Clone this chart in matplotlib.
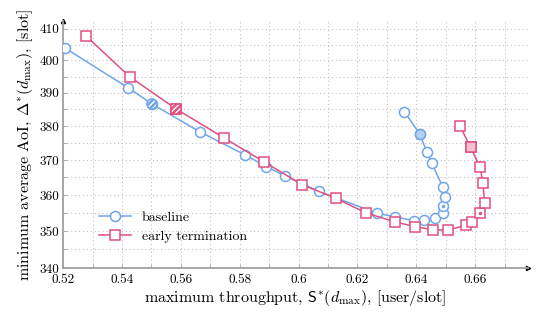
import numpy as np
import matplotlib
matplotlib.use("Agg")
import matplotlib.pyplot as plt
from matplotlib.ticker import FixedLocator, NullFormatter, FixedFormatter

plt.rcParams['font.family'] = 'serif'
plt.rcParams['font.serif'] = ['cmr10']
plt.rcParams['mathtext.fontset'] = 'cm'
plt.rcParams['axes.unicode_minus'] = False

# datos
base_x = [0.5205, 0.5420, 0.5502, 0.5664, 0.5818, 0.5891, 0.5954, 0.6070,
          0.6266, 0.6328, 0.6393, 0.6427, 0.6465, 0.6491, 0.6491, 0.6498,
          0.6490, 0.6452, 0.6436, 0.6411, 0.6359]
base_y = [404.0, 391.6, 386.6, 378.3, 371.5, 368.1, 365.4, 361.0,
          354.9, 353.9, 352.8, 353.0, 353.5, 354.9, 357.0, 359.4,
          362.3, 369.1, 372.3, 377.7, 384.3]

early_x = [0.5277, 0.5427, 0.5584, 0.5748, 0.5882, 0.6013, 0.6126, 0.6229,
           0.6328, 0.6396, 0.6458, 0.6509, 0.6570, 0.6589, 0.6616, 0.6632,
           0.6626, 0.6617, 0.6584, 0.6549]
early_y = [407.8, 394.9, 385.1, 376.4, 369.5, 362.9, 359.1, 355.0,
           352.5, 351.2, 350.3, 350.3, 351.6, 352.5, 355.0, 357.7,
           363.4, 367.9, 373.7, 379.9]

# puntos especiales (indices): rayado, relleno, con punto
base_hatch, base_fill, base_dot = 2, 19, 14
early_hatch, early_fill, early_dot = 2, 18, 14

azul = '#6fa6ea'
rojo = '#e0507e'
gris = '#a0a0a0'

fig = plt.figure(figsize=(5.39, 3.21), dpi=100)
ax = fig.add_axes([0.117, 0.165, 0.863, 0.77])
ax.set_yscale('log')

ax.plot(base_x, base_y, color=azul, lw=1.1, marker='o', ms=7.2,
        mfc='white', mec=azul, mew=1.1, label='baseline', zorder=3)
ax.plot(early_x, early_y, color=rojo, lw=1.1, marker='s', ms=7.0,
        mfc='white', mec=rojo, mew=1.1, label='early termination', zorder=4)

# marcadores rayados
for xs, ys, i, c, m, s in [(base_x, base_y, base_hatch, azul, 'o', 52),
                           (early_x, early_y, early_hatch, rojo, 's', 49)]:
    ax.scatter([xs[i]], [ys[i]], s=s, marker=m, facecolor=c, edgecolor='white',
               hatch='//////', linewidths=0, zorder=5)
    ax.scatter([xs[i]], [ys[i]], s=s, marker=m, facecolor='none', edgecolor=c,
               linewidths=1.1, zorder=6)

# marcadores rellenos
ax.plot([base_x[base_fill]], [base_y[base_fill]], marker='o', ms=7.2,
        mfc='#b4d0f4', mec=azul, mew=1.1, zorder=5)
ax.plot([early_x[early_fill]], [early_y[early_fill]], marker='s', ms=7.0,
        mfc='#f2c0cf', mec=rojo, mew=1.1, zorder=5)

# marcadores con punto
ax.plot([base_x[base_dot]], [base_y[base_dot]], marker='.', ms=3,
        color=azul, zorder=6)
ax.plot([early_x[early_dot]], [early_y[early_dot]], marker='.', ms=3,
        color=rojo, zorder=6)

ax.set_xlim(0.52, 0.678)
ax.set_ylim(340, 412.6)

xt = [0.52, 0.54, 0.56, 0.58, 0.60, 0.62, 0.64, 0.66]
ax.xaxis.set_major_locator(FixedLocator(xt))
ax.xaxis.set_major_formatter(FixedFormatter(['0.52', '0.54', '0.56', '0.58',
                                             '0.6', '0.62', '0.64', '0.66']))
ax.xaxis.set_minor_locator(FixedLocator(np.arange(0.53, 0.675, 0.02)))
yt = list(range(340, 411, 10))
ax.yaxis.set_major_locator(FixedLocator(yt))
ax.yaxis.set_major_formatter(FixedFormatter([str(v) for v in yt]))
ax.yaxis.set_minor_locator(FixedLocator(list(range(345, 411, 10))))
ax.yaxis.set_minor_formatter(NullFormatter())

ax.grid(True, which='both', color='#c0c0c0', ls=(0, (1, 2.5)), lw=0.8)
ax.set_axisbelow(True)
ax.tick_params(which='both', direction='in', color=gris, labelsize=9.5,
               length=3, width=0.6, pad=3)
ax.tick_params(axis='x', pad=4.5)

for s in ['top', 'right']:
    ax.spines[s].set_visible(False)
for s in ['left', 'bottom']:
    ax.spines[s].set_color(gris)
    ax.spines[s].set_linewidth(1.3)
ax.plot(1, 0, marker='>', ms=3, color='black', transform=ax.transAxes, clip_on=False)
ax.plot(0, 1, marker='^', ms=3, color='black', transform=ax.transAxes, clip_on=False)

ax.set_xlabel(r'maximum throughput, $\mathsf{S}^{*}(d_{\max})$, [user/slot]', fontsize=11.5, labelpad=1)
ax.set_ylabel(r'minimum average AoI, $\Delta^{*}(d_{\max})$, [slot]', fontsize=11.5, labelpad=3)

ax.legend(loc='lower left', bbox_to_anchor=(0.05, 0.05), frameon=False,
          fontsize=10, handlelength=2.3, labelspacing=0.5)

fig.savefig('out.png', dpi=100)
